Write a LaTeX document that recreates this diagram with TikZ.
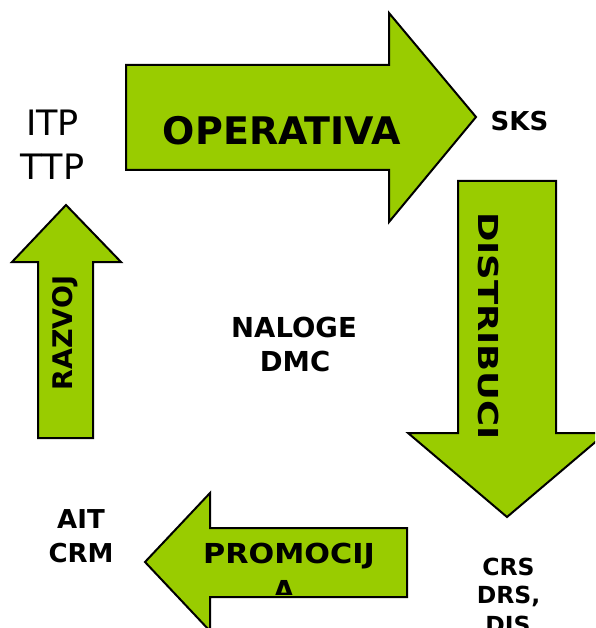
\documentclass[tikz,border=0pt]{standalone}
\usepackage{fontspec}
\usepackage{graphicx}
\setmainfont{DejaVu Sans}
\definecolor{arrowgreen}{HTML}{99CC00}
\newcommand\setfs[1]{\fontsize{#1}{#1}\selectfont}
\begin{document}
\begin{tikzpicture}[x=1pt,y=-1pt,
  bigarrow/.style={fill=arrowgreen,draw=black,line width=2pt,line join=miter},
  lbl/.style={inner sep=0pt,anchor=base,text=black},
  boldlbl/.style={lbl,font=\setfs{#1}\bfseries},
]
\useasboundingbox (0,0) rectangle (595,628);
\clip (0,0) rectangle (595,628);
% arrows
\draw[bigarrow] (126,65) -- (389,65) -- (389,13) -- (476,117) -- (389,222) -- (389,170) -- (126,170) -- cycle;
\draw[bigarrow] (458,181) -- (556,181) -- (556,433) -- (606,433) -- (507,517) -- (408,433) -- (458,433) -- cycle;
\draw[bigarrow] (407,528) -- (210,528) -- (210,493) -- (145,562) -- (210,631) -- (210,597) -- (407,597) -- cycle;
\draw[bigarrow] (38,438) -- (38,262) -- (12,262) -- (66,205) -- (121,262) -- (93,262) -- (93,438) -- cycle;
% arrow labels
\node[boldlbl=38] (operativa) at (282,145) {OPERATIVA};
\node[boldlbl=27.5,rotate=-90] (distribuci) at (478,326) {\scalebox{1.29}[1]{DISTRIBUCI}};
\node[boldlbl=27,rotate=90] (razvoj) at (72,333) {RAZVOJ};
\node[boldlbl=27.5] (promo1) at (289,563) {\scalebox{1.1}[1]{PROMOCIJ}};
\begin{scope}
  \clip (211,529) rectangle (406,594);
  \node[boldlbl=27.5] (promo2) at (284,600) {A};
\end{scope}
% free texts
\node[lbl,font=\setfs{35}] (itp) at (52.5,136) {ITP};
\node[lbl,font=\setfs{35}] (ttp) at (52.5,180) {TTP};
\node[boldlbl=26] (sks) at (519.5,131) {SKS};
\node[boldlbl=27.5] (naloge) at (294,337) {NALOGE};
\node[boldlbl=27.5] (dmc) at (295,371) {DMC};
\node[boldlbl=26] (ait) at (81,528) {AIT};
\node[boldlbl=26] (crm) at (81,562) {CRM};
\node[boldlbl=23.5] (crs) at (508.5,575) {CRS};
\node[boldlbl=23.5] (drs) at (508.5,603) {DRS,};
\node[boldlbl=23.5] (dis) at (508,633) {DIS};
\end{tikzpicture}
\end{document}
